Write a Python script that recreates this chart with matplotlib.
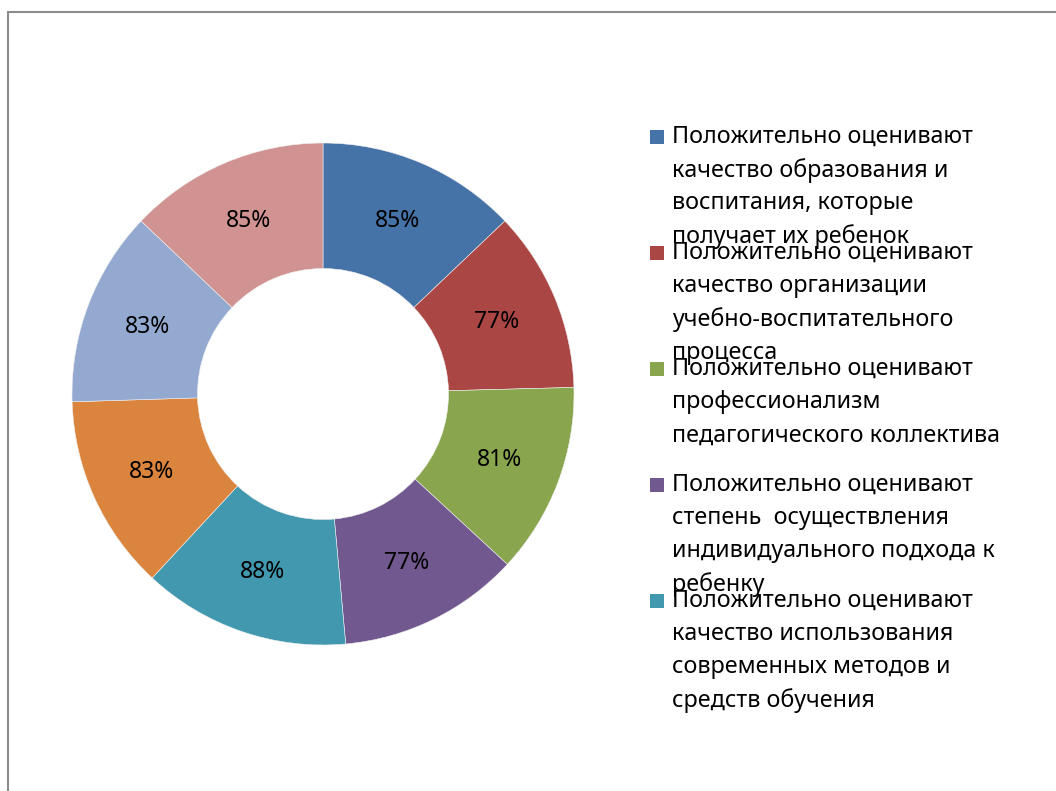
import matplotlib
matplotlib.use("Agg")
import matplotlib.pyplot as plt
from matplotlib.patches import Rectangle

values = [85, 77, 81, 77, 88, 83, 83, 85]
colors = ['#4572A7', '#AA4643', '#89A54E', '#71588F',
          '#4198AF', '#DB843D', '#93A9CF', '#D19392']
legend_labels = [
    "Положительно оценивают\nкачество образования и\nвоспитания, которые\nполучает их ребенок",
    "Положительно оценивают\nкачество организации\nучебно-воспитательного\nпроцесса",
    "Положительно оценивают\nпрофессионализм\nпедагогического коллектива",
    "Положительно оценивают\nстепень  осуществления\nиндивидуального подхода к\nребенку",
    "Положительно оценивают\nкачество использования\nсовременных методов и\nсредств обучения",
]

W, H = 1056, 791
fig = plt.figure(figsize=(W / 100, H / 100), dpi=100)
fig.patch.set_facecolor('white')

# frame (only left and top edges are visible in the original)
fig.add_artist(Rectangle((8 / W, -0.1), 1.2, (H - 12) / H + 0.1,
                         transform=fig.transFigure, fill=False,
                         edgecolor='#8c8c8c', linewidth=1.5))

cx, cy, r = 323, 394, 251
ax = fig.add_axes([(cx - r) / W, (H - cy - r) / H, 2 * r / W, 2 * r / H])
total = sum(values)
wedges, texts, autotexts = ax.pie(
    values, colors=colors, startangle=90, counterclock=False,
    radius=1, pctdistance=0.75,
    autopct=lambda p: f"{round(p * total / 100)}%",
    wedgeprops=dict(width=0.5, edgecolor='#f0f0f0', linewidth=0.4),
    textprops=dict(fontsize=16.5, family='Noto Sans', color='black'))
ax.set_xlim(-1, 1)
ax.set_ylim(-1, 1)
ax.set_aspect('equal')
ax.axis('off')

# legend drawn by hand to keep the overlapping Excel look
y0, step, line = 137, 116, 33.2
for i, lab in enumerate(legend_labels):
    y = y0 + i * step
    fig.add_artist(Rectangle((650 / W, (H - y - 7) / H), 14 / W, 14 / H,
                             transform=fig.transFigure,
                             facecolor=colors[i], edgecolor='none'))
    for j, ln in enumerate(lab.split("\n")):
        fig.text(672 / W, (H - y - j * line) / H, ln, fontsize=16.8,
                 family='Noto Sans', va='center', ha='left')

fig.savefig("out.png", dpi=100)
